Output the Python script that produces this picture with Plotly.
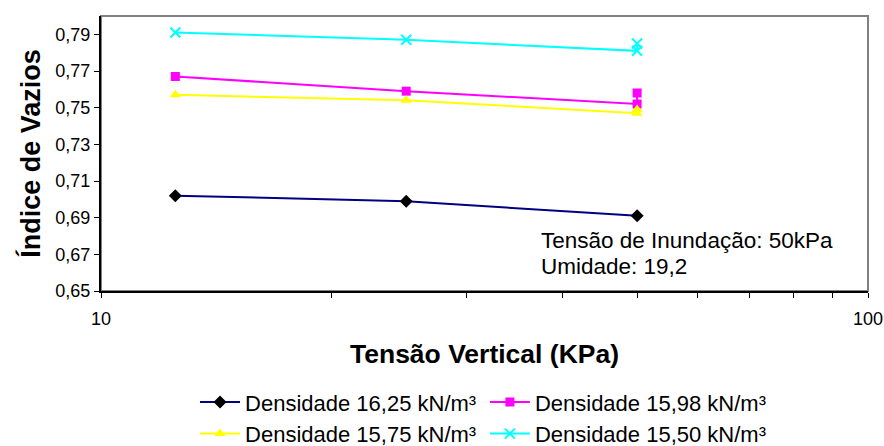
import plotly.graph_objects as go

# Data
x_3 = [12.5, 25, 50]
x_4 = [12.5, 25, 50, 50]
dens_1625 = [0.702, 0.699, 0.691]
dens_1598 = [0.767, 0.759, 0.752, 0.758]
dens_1575 = [0.757, 0.754, 0.747, 0.749]
dens_1550 = [0.791, 0.787, 0.781, 0.785]

names = ["Densidade 16,25 kN/m³", "Densidade 15,98 kN/m³",
         "Densidade 15,75 kN/m³", "Densidade 15,50 kN/m³"]

y_ticks = [0.65, 0.67, 0.69, 0.71, 0.73, 0.75, 0.77, 0.79]
x_ticks = [10, 20, 30, 40, 50, 60, 70, 80, 90, 100]
x_ticktext = ["10", "", "", "", "", "", "", "", "", "100"]

FONT = "Arial, Liberation Sans, sans-serif"

fig = go.Figure()
fig.add_trace(go.Scatter(x=x_3, y=dens_1625, name=names[0], mode="lines+markers",
                         legend="legend",
                         line=dict(color="#000080", width=2),
                         marker=dict(symbol="diamond", size=10, color="black")))
fig.add_trace(go.Scatter(x=x_4, y=dens_1598, name=names[1], mode="lines+markers",
                         legend="legend2",
                         line=dict(color="#FF00FF", width=2),
                         marker=dict(symbol="square", size=9, color="#FF00FF")))
fig.add_trace(go.Scatter(x=x_4, y=dens_1575, name=names[2], mode="lines+markers",
                         legend="legend",
                         line=dict(color="#FFFF00", width=2),
                         marker=dict(symbol="triangle-up", size=10, color="#FFFF00")))
fig.add_trace(go.Scatter(x=x_4, y=dens_1550, name=names[3], mode="lines+markers",
                         legend="legend2",
                         line=dict(color="#00FFFF", width=2),
                         marker=dict(symbol="x-thin", size=10, color="#00FFFF",
                                     line=dict(color="#00FFFF", width=2))))

legend_common = dict(orientation="v", xanchor="left", yanchor="top",
                     font=dict(size=22, family=FONT), tracegroupgap=0,
                     itemwidth=40, bgcolor="rgba(0,0,0,0)")

fig.update_layout(
    width=884, height=446,
    margin=dict(l=101, r=16, t=16, b=155, autoexpand=False),
    paper_bgcolor="white", plot_bgcolor="white",
    separators=",.",
    font=dict(family=FONT, size=18, color="black"),
    showlegend=True,
    legend=dict(x=0.1226, y=-0.328, **legend_common),
    legend2=dict(x=0.5005, y=-0.328, **legend_common),
    shapes=[dict(type="rect", xref="paper", yref="paper", x0=0, x1=1, y0=0, y1=1,
                 line=dict(color="#808080", width=2), layer="below")],
)

fig.update_xaxes(type="log", range=[1, 2], tickvals=x_ticks, ticktext=x_ticktext,
                 ticks="outside", ticklen=5, tickcolor="black", showgrid=False,
                 showline=True, linecolor="black", linewidth=2, mirror=False,
                 ticklabelstandoff=5, tickfont=dict(size=18), automargin=False,
                 title=dict(text="<b>Tensão Vertical (KPa)</b>", font=dict(size=26.5), standoff=17),
                 zeroline=False)
fig.update_yaxes(range=[0.65, 0.80], tickvals=y_ticks, tickformat=".2f",
                 ticks="outside", ticklen=5, tickcolor="black", showgrid=False,
                 showline=True, linecolor="black", linewidth=2,
                 tickfont=dict(size=18), automargin=False,
                 title=dict(text="<b>Índice de Vazios</b>", font=dict(size=27), standoff=7),
                 zeroline=False)

fig.add_annotation(text="Tensão de Inundação: 50kPa", xref="paper", yref="paper",
                   x=0.571, y=0.185, xanchor="left", yanchor="middle", showarrow=False,
                   font=dict(size=22.5, family=FONT))
fig.add_annotation(text="Umidade: 19,2", xref="paper", yref="paper",
                   x=0.571, y=0.09, xanchor="left", yanchor="middle", showarrow=False,
                   font=dict(size=22.5, family=FONT))

fig.write_html("out.html")
